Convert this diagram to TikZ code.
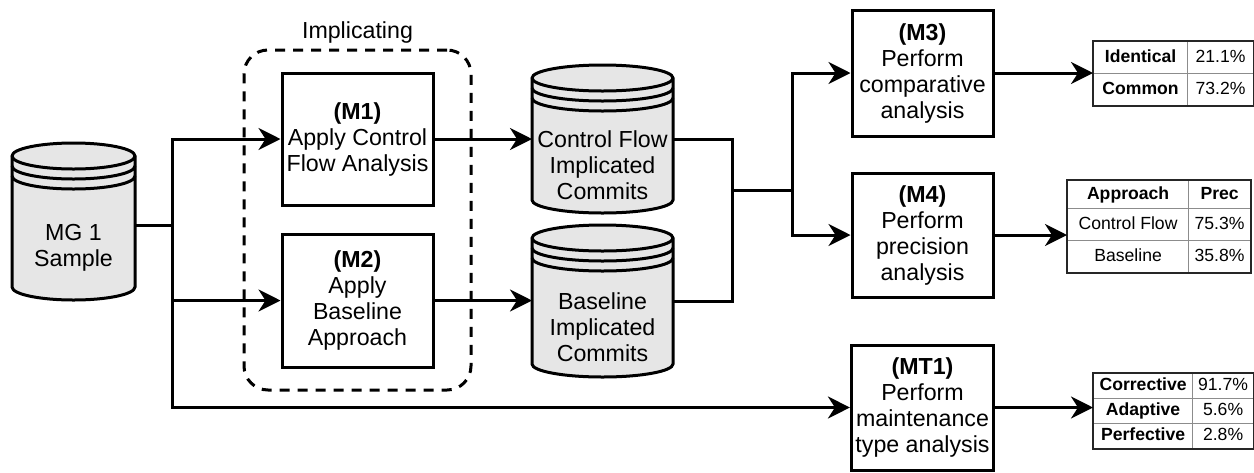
\documentclass[tikz,border=0pt]{standalone}
\usepackage{fontspec}
\setmainfont{Liberation Sans}
\usepackage{tikz}
\usetikzlibrary{positioning,arrows.meta,matrix}
\definecolor{dbgray}{HTML}{E6E6E6}
\definecolor{gridgray}{HTML}{8C8C8C}
\definecolor{tabedge}{HTML}{262626}

% database drum: name, left, top, width, height, text
\newcommand{\dbdrum}[6]{%
  \begin{scope}[shift={(#2,-#3)}, line width=1.5pt]
    \filldraw[fill=dbgray] (0,-13) -- (0,{-#5+13}) arc[start angle=180,end angle=360,x radius={#4/2},y radius=13]
      -- (#4,-13) arc[start angle=0,end angle=180,x radius={#4/2},y radius=13] -- cycle;
    \foreach \d in {0,10,20}
      \draw (0,{-13-\d}) arc[start angle=180,end angle=360,x radius={#4/2},y radius=13];
    \node[minimum width={#4*0.5pt}, minimum height={#5*0.5pt}, inner sep=0pt, outer sep=0pt] (#1) at ({#4/2},{-#5/2}) {};
    \node[align=center] (#1-txt) at ({#4/2},{-(#5+52)/2}) {#6};
  \end{scope}}

\begin{document}
\begin{tikzpicture}[x=0.5pt, y=0.5pt, font=\fontsize{11.6}{13}\selectfont,
    stepbox/.style={draw, line width=1.5pt, align=center, inner sep=2pt},
    flow/.style={line width=1.5pt},
    arr/.style={flow, -{Stealth[length=11pt,width=11pt,inset=3.5pt]}},
    tab/.style={matrix of nodes, inner sep=0pt, outer sep=0pt, column sep=-0.6pt, row sep=-0.6pt,
      nodes={draw=gridgray, line width=0.6pt, inner sep=0pt, outer sep=0pt, anchor=center,
        text height=6.4pt, text depth=1.8pt, font=\fontsize{8.8}{10}\selectfont}},
    hd/.style={font=\fontsize{8.8}{10}\selectfont\bfseries},
    tabline/.style={draw=tabedge, line width=1pt}]
  \useasboundingbox (0,0) rectangle (1254,-472);

  % grouping
  \node[draw, line width=1.5pt, dash pattern=on 5pt off 4pt, rounded corners=12pt,
    minimum width=113.5pt, minimum height=170pt] (implbox) at (357.5,-220) {};
  \node[above=-1pt of implbox] (impllbl) {Implicating};

  % data
  \dbdrum{mgdb}{12}{143}{123}{157}{MG 1\\Sample}
  \dbdrum{cfdb}{532}{65}{141}{148}{Control Flow\\Implicated\\Commits}
  \dbdrum{bldb}{532}{225}{141}{152}{Baseline\\Implicated\\Commits}

  % steps
  \node[stepbox, minimum width=75.5pt, minimum height=66pt] (mone) at (357.5,-139)
    {\textbf{(M1)}\\Apply Control\\Flow Analysis};
  \node[stepbox, minimum width=75.5pt, minimum height=66.5pt] (mtwo) at (357.5,-300.5)
    {\textbf{(M2)}\\Apply\\Baseline\\Approach};
  \node[stepbox, minimum width=70.5pt, minimum height=63pt] (mthree) at (922.5,-73)
    {\textbf{(M3)}\\Perform\\comparative\\analysis};
  \node[stepbox, minimum width=70.5pt, minimum height=62pt] (mfour) at (922.5,-235)
    {\textbf{(M4)}\\Perform\\precision\\analysis};
  \node[stepbox, minimum width=70.5pt, minimum height=62.5pt] (mtone) at (922.5,-407.5)
    {\textbf{(MT1)}\\Perform\\maintenance\\type analysis};

  % results
  \matrix (tabcmp) [tab, anchor=north west, column 1/.style={nodes={minimum width=47pt}},
    column 2/.style={nodes={minimum width=33pt}}, nodes={minimum height=16pt}] at (1093,-41) {
    |[hd]| Identical & 21.1\% \\
    |[hd]| Common & 73.2\% \\
  };
  \matrix (tabprec) [tab, anchor=north west, column 1/.style={nodes={minimum width=60.5pt}},
    column 2/.style={nodes={minimum width=31pt}}, nodes={minimum height=16pt},
    row 1/.style={nodes={minimum height=14pt}}] at (1067,-180) {
    |[hd]| Approach & |[hd]| Prec \\
    Control Flow & 75.3\% \\
    Baseline & 35.8\% \\
  };
  \matrix (tabtype) [tab, anchor=north west, column 1/.style={nodes={minimum width=49.5pt}},
    column 2/.style={nodes={minimum width=30.5pt}}, nodes={minimum height=12.5pt}] at (1093,-373) {
    |[hd]| Corrective & 91.7\% \\
    |[hd]| Adaptive & 5.6\% \\
    |[hd]| Perfective & 2.8\% \\
  };
  \draw[tabline] (tabcmp.north west) rectangle (tabcmp.south east);
  \draw[tabline] (tabprec.north west) rectangle (tabprec.south east);
  \draw[tabline] (tabtype.north west) rectangle (tabtype.south east);

  % connectors
  \coordinate (fork) at (172,-225);
  \coordinate (join) at (732,-190);
  \coordinate (fan) at (792,-190);
  \draw[flow] (fork -| mgdb.east) -- (fork);
  \draw[arr] (fork) |- (mone.west);
  \draw[arr] (fork) |- (mtwo.west);
  \draw[arr] (fork) |- (mtone.west);
  \draw[arr] (mone.east) -- (mone.east -| cfdb.west);
  \draw[arr] (mtwo.east) -- (mtwo.east -| bldb.west);
  \draw[flow] (cfdb.east) -| (join) -- (fan);
  \draw[flow] (bldb.east) -| (join);
  \draw[arr] (fan) |- (mthree.west);
  \draw[arr] (fan) |- (mfour.west);
  \draw[arr] (mthree.east) -- (mthree.east -| tabcmp.west);
  \draw[arr] (mfour.east) -- (mfour.east -| tabprec.west);
  \draw[arr] (mtone.east) -- (mtone.east -| tabtype.west);
\end{tikzpicture}
\end{document}
